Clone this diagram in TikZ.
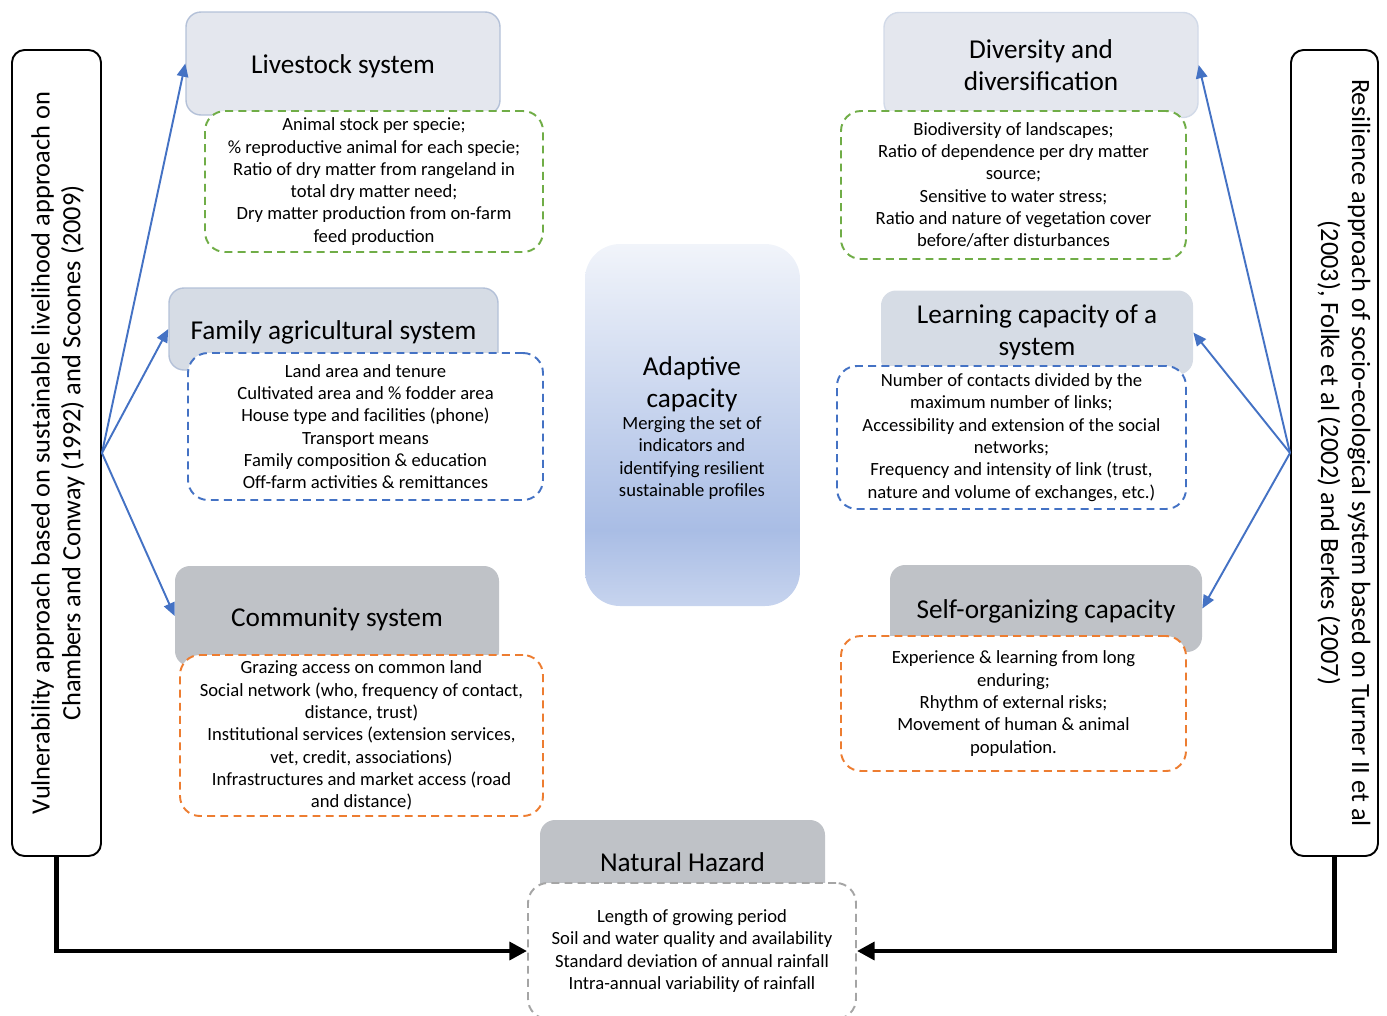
\documentclass[tikz,border=0pt]{standalone}
\usepackage{fontspec}
\setmainfont{Carlito}
\usetikzlibrary{arrows.meta}
\newcommand{\PX}{0.02cm}
\newcommand{\detfont}{\fontsize{10.6}{12.7}\selectfont}
\newcommand{\titfont}{\fontsize{15.5}{18.4}\selectfont}
\newcommand{\sidefont}{\fontsize{15}{17.6}\selectfont}
\definecolor{tlight}{HTML}{E4E7EE}
\definecolor{tmid}{HTML}{D6DCE5}
\definecolor{tgray}{HTML}{BFC2C7}
\definecolor{tborder}{HTML}{B4C1D8}
\definecolor{dgreen}{HTML}{70AD47}
\definecolor{dblue}{HTML}{4472C4}
\definecolor{dorange}{HTML}{ED7D31}
\definecolor{dgray}{HTML}{A5A5A5}
\definecolor{adtop}{HTML}{F1F4FA}
\definecolor{admid}{HTML}{A9BDE5}
\definecolor{adbot}{HTML}{C7D4EE}
\pgfdeclareverticalshading{adaptshade}{100bp}{color(0bp)=(adbot); color(25bp)=(adbot); color(35.5bp)=(admid); color(75bp)=(adtop); color(100bp)=(adtop)}
\tikzset{
  sidebox/.style={draw=black, line width=1.1pt, rounded corners=0.25cm, fill=white, inner sep=0pt},
  sidetext/.style={align=center, font=\sidefont, inner sep=0pt},
  titlebox/.style={rounded corners=0.3cm, inner sep=0pt, align=center, font=\titfont},
  lowtext/.style={text height=13.8pt, text depth=2.4pt},
  lighttitle/.style={titlebox, fill=tlight, draw=tborder, line width=0.8pt},
  midtitle/.style={titlebox, fill=tmid},
  graytitle/.style={titlebox, fill=tgray},
  detbox/.style={fill=white, rounded corners=0.4cm, line width=1.1pt, dash pattern=on 4.5pt off 3pt, inner sep=0pt, align=center, font=\detfont},
  sysarrow/.style={draw=dblue, line width=1.1pt, -{Triangle[length=7.5pt,width=6.5pt]}},
  backarrow/.style={draw=black, line width=2.8pt, -{Triangle[length=10pt,width=10pt]}}
}

\begin{document}
\begin{tikzpicture}[x=\PX, y=-\PX]
	\useasboundingbox (0,0) rectangle (1387,1015);

	% side approaches
	\node[sidebox, minimum width=89*\PX, minimum height=806*\PX] (vul) at (56.5,453) {};
	\node[sidetext, rotate=90] (vulT) at (58,453) {Vulnerability approach based on sustainable livelihood approach on\\Chambers and Conway (1992) and Scoones (2009)};
	\node[sidebox, minimum width=87*\PX, minimum height=806*\PX] (res) at (1334.5,453) {};
	\node[sidetext, rotate=-90] (resT) at (1344,453) {Resilience approach of socio-ecological system based on Turner II et al\\(2003), Folke et al (2002) and Berkes (2007)};

	% left systems
	\node[lighttitle, lowtext, minimum width=314*\PX, minimum height=103*\PX] (lsT) at (343,63.5) {Livestock system};
	\node[detbox, draw=dgreen, minimum width=338*\PX, minimum height=141*\PX] (lsD) at (374,181.5) {Animal stock per specie;\\\% reproductive animal for each specie;\\Ratio of dry matter from rangeland in\\total dry matter need;\\Dry matter production from on-farm\\feed production};

	\node[midtitle, lowtext, draw=tborder, line width=0.8pt, minimum width=329*\PX, minimum height=82*\PX] (famT) at (333.5,329) {Family agricultural system};
	\node[detbox, draw=dblue, minimum width=355*\PX, minimum height=147*\PX] (famD) at (365.5,426.5) {Land area and tenure\\Cultivated area and \% fodder area\\House type and facilities (phone)\\Transport means\\Family composition \& education\\Off-farm activities \& remittances};

	\node[graytitle, lowtext, minimum width=324*\PX, minimum height=100*\PX] (comT) at (337,616) {Community system};
	\node[detbox, draw=dorange, minimum width=363*\PX, minimum height=161*\PX] (comD) at (361.5,735.5) {Grazing access on common land\\Social network (who, frequency of contact,\\distance, trust)\\Institutional services (extension services,\\vet, credit, associations)\\Infrastructures and market access (road\\and distance)};

	% centre
	\node[rounded corners=0.7cm, shading=adaptshade, minimum width=215*\PX, minimum height=362*\PX, inner sep=0pt] (adapt) at (692.5,425) {};
	\node[align=center, font=\titfont, inner sep=0pt] (adaptT) at (692,384) {Adaptive\\capacity};
	\node[align=center, font=\detfont, inner sep=0pt] (adaptD) at (692,458) {Merging the set of\\indicators and\\identifying resilient\\sustainable profiles};

	\node[graytitle, minimum width=285*\PX, minimum height=84*\PX] (natT) at (682.5,862) {Natural Hazard};
	\node[detbox, draw=dgray, minimum width=328*\PX, minimum height=136*\PX] (natD) at (692,951) {Length of growing period\\Soil and water quality and availability\\Standard deviation of annual rainfall\\Intra-annual variability of rainfall};

	% right systems
	\node[lighttitle, draw=tborder!60, minimum width=314*\PX, minimum height=105*\PX] (divT) at (1041,65) {Diversity and\\diversification};
	\node[detbox, draw=dgreen, minimum width=345*\PX, minimum height=148*\PX] (divD) at (1013.5,185) {Biodiversity of landscapes;\\Ratio of dependence per dry matter\\source;\\Sensitive to water stress;\\Ratio and nature of vegetation cover\\before/after disturbances};

	\node[midtitle, minimum width=312*\PX, minimum height=84*\PX] (lrnT) at (1037,332.5) {Learning capacity of a\\system};
	\node[detbox, draw=dblue, minimum width=349*\PX, minimum height=143*\PX] (lrnD) at (1011.5,437.5) {Number of contacts divided by the\\maximum number of links;\\Accessibility and extension of the social\\networks;\\Frequency and intensity of link (trust,\\nature and volume of exchanges, etc.)};

	\node[graytitle, lowtext, minimum width=312*\PX, minimum height=87*\PX] (selfT) at (1046,608.5) {Self-organizing capacity};
	\node[detbox, draw=dorange, minimum width=345*\PX, minimum height=135*\PX] (selfD) at (1013.5,703.5) {Experience \& learning from long\\enduring;\\Rhythm of external risks;\\Movement of human \& animal\\population.};

	% connectors
	\draw[sysarrow] (vul.east) -- (lsT.west);
	\draw[sysarrow] (vul.east) -- (famT.west);
	\draw[sysarrow] (vul.east) -- (comT.west);
	\draw[sysarrow] (res.west) -- (divT.east);
	\draw[sysarrow] (res.west) -- (lrnT.east);
	\draw[sysarrow] (res.west) -- (selfT.east);
	\draw[backarrow] (vul.south) |- (natD.west);
	\draw[backarrow] (res.south) |- (natD.east);
\end{tikzpicture}
\end{document}
